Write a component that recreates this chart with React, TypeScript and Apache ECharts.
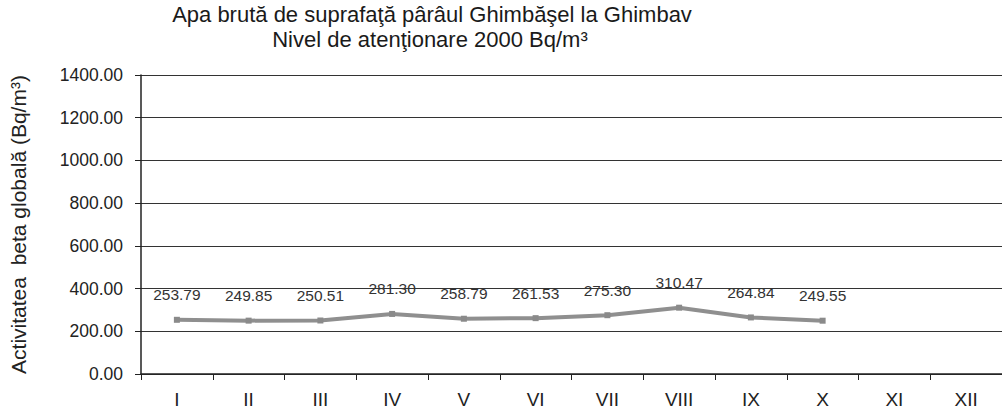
import React, { useEffect, useRef } from "react";
import * as echarts from "echarts";

const months = ["I", "II", "III", "IV", "V", "VI", "VII", "VIII", "IX", "X", "XI", "XII"];
const betaValues: (number | null)[] = [253.79, 249.85, 250.51, 281.3, 258.79, 261.53, 275.3, 310.47, 264.84, 249.55, null, null];
const titleLine1 = "Apa brută de suprafaţă pârâul Ghimbăşel la Ghimbav";
const titleLine2 = "Nivel de atenţionare 2000 Bq/m³";
const yAxisName = "Activitatea  beta globală (Bq/m³)";

export default function App() {
  const ref = useRef<HTMLDivElement>(null);
  useEffect(() => {
    if (!ref.current) return;
    const chart = echarts.init(ref.current, null, { renderer: "svg" });
    const font = "'Liberation Sans', Arial, sans-serif";
    const titleStyle = { fontFamily: font, fontSize: 22, fontWeight: "normal", color: "#1a1a1a" };
    chart.setOption({
      animation: false,
      backgroundColor: "#ffffff",
      title: [
        { text: titleLine1, left: 432, top: 3, textAlign: "center", padding: 0, textStyle: titleStyle },
        { text: titleLine2, left: 430, top: 28, textAlign: "center", padding: 0, textStyle: titleStyle },
      ],
      grid: { left: 141, right: 0, top: 75, bottom: 43 },
      xAxis: {
        type: "category",
        data: months,
        boundaryGap: true,
        axisLine: { lineStyle: { color: "#222", width: 1.5 } },
        axisTick: { show: true, length: 6, lineStyle: { color: "#222" } },
        axisLabel: { color: "#222", fontFamily: font, fontSize: 19, margin: 16 },
      },
      yAxis: {
        type: "value",
        min: 0,
        max: 1400,
        interval: 200,
        name: yAxisName,
        nameLocation: "middle",
        nameGap: 112,
        nameTextStyle: { fontFamily: font, fontSize: 21, color: "#222" },
        axisLine: { show: true, lineStyle: { color: "#222", width: 1.5 } },
        axisTick: { show: true, length: 6, lineStyle: { color: "#222" } },
        axisLabel: {
          color: "#222",
          fontFamily: font,
          fontSize: 17.5,
          margin: 18,
          formatter: (v: number) => v.toFixed(2),
        },
        splitLine: { show: true, lineStyle: { color: "#333", width: 1 } },
      },
      series: [
        {
          type: "line",
          data: betaValues,
          symbol: "rect",
          symbolSize: 6,
          itemStyle: { color: "#8a8a8a" },
          lineStyle: { color: "#8f8f8f", width: 4 },
          label: {
            show: true,
            position: "top",
            distance: 14,
            fontFamily: font,
            fontSize: 15.5,
            color: "#333",
            formatter: (p: any) => (p.value == null ? "" : Number(p.value).toFixed(2)),
          },
        },
      ],
    });
    return () => chart.dispose();
  }, []);
  return <div ref={ref} style={{ position: "fixed", left: 0, top: 0, width: 1002, height: 417 }} />;
}
